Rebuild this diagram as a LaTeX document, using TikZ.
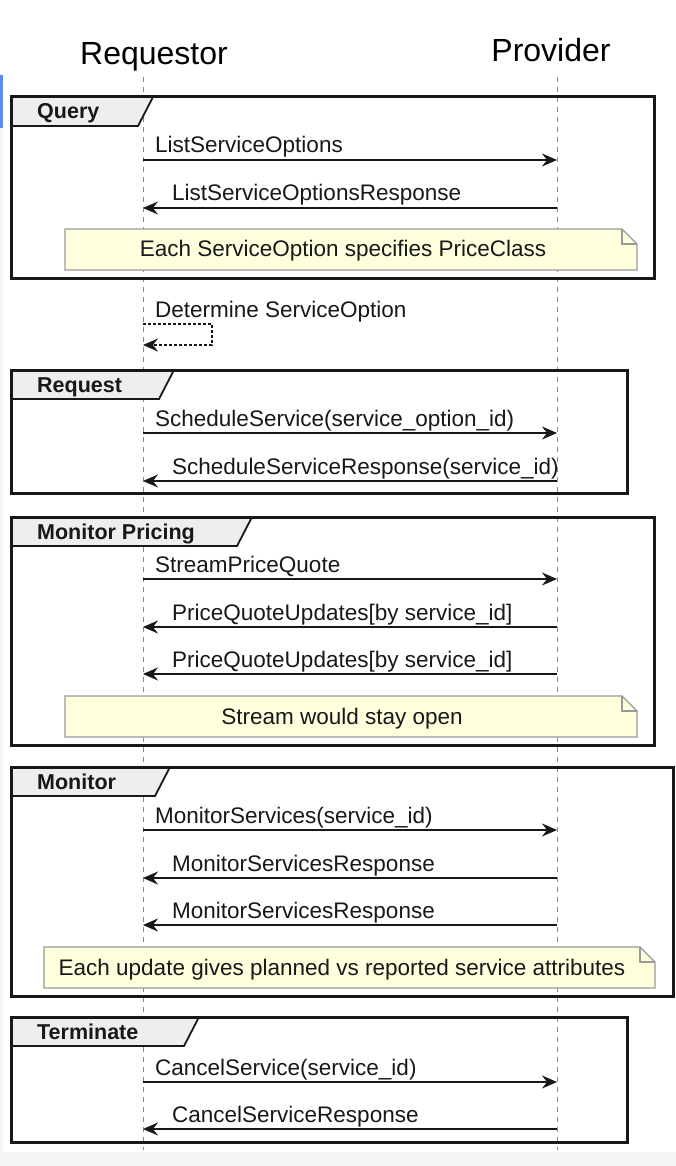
\documentclass[tikz,border=0pt]{standalone}
\usepackage{fontspec}
\setmainfont{Liberation Sans}
\usetikzlibrary{arrows.meta}
\definecolor{notefill}{HTML}{FEFFDD}
\definecolor{notedraw}{HTML}{999999}
\definecolor{tabfill}{HTML}{EEEEEE}
\definecolor{ink}{HTML}{181818}
\definecolor{lifegray}{HTML}{8A8A8A}
\definecolor{bandgray}{HTML}{F4F4F4}
\definecolor{sliverblue}{HTML}{5A8BEE}

\begin{document}
\begin{tikzpicture}[
    x=1pt, y=-1pt,
    lifeline/.style={draw=lifegray, line width=1pt, dash pattern=on 5pt off 5pt},
    msg/.style={draw=ink, line width=1.4pt, -{Stealth[length=15pt, width=13pt, inset=5pt]}},
    selfmsg/.style={msg, dash pattern=on 3pt off 2pt},
    msglabel/.style={anchor=base west, inner sep=0pt, text=ink, font=\fontsize{22.5}{27}\selectfont},
    actor/.style={anchor=base, inner sep=0pt, text=black, font=\fontsize{32}{38}\selectfont},
    framebox/.style={draw=ink, line width=3pt},
    tabbox/.style={fill=tabfill, draw=ink, line width=1.8pt},
    tablabel/.style={anchor=base west, inner sep=0pt, text=ink, font=\bfseries\fontsize{21.5}{26}\selectfont},
    notebox/.style={fill=notefill, draw=notedraw, line width=1.2pt},
    notetext/.style={anchor=base, inner sep=0pt, text=ink, font=\fontsize{22.5}{27}\selectfont}
    ]
    \useasboundingbox (0,0) rectangle (676,1166);
    % background
    \fill[white] (0,0) rectangle (676,1166);
    \fill[bandgray] (0,1152) rectangle (676,1166);
    \fill[bandgray] (0,128) rectangle (3,1152);
    \fill[sliverblue] (0,75) rectangle (3,128);
    % participants
    \node[actor] (req) at (154,65) {Requestor};
    \node[actor] (prov) at (551,62) {Provider};
    \coordinate (reqtop) at (143,77);
    \coordinate (reqbot) at (143,1150);
    \coordinate (provtop) at (557,77);
    \coordinate (provbot) at (557,1150);
    \draw[lifeline] (reqtop) -- (reqbot);
    \draw[lifeline] (provtop) -- (provbot);

    % Query frame
    \draw[tabbox] (11,97) -- (153,97) -- (138,126) -- (11,126) -- cycle;
    \node[tablabel] (query) at (37,119) {Query};
    \draw[framebox] (11,97) rectangle (654,278);
    \coordinate (m1a) at (143,160);
    \coordinate (m1b) at (557,160);
    \draw[msg] (m1a) -- (m1b);
    \node[msglabel] (m1l) at (155,153) {ListServiceOptions};
    \coordinate (m2a) at (557,208);
    \coordinate (m2b) at (143,208);
    \draw[msg] (m2a) -- (m2b);
    \node[msglabel] (m2l) at (172,201) {ListServiceOptionsResponse};
    % note
    \draw[notebox] (65,229) -- (622,229) -- (637,244) -- (637,270) -- (65,270) -- cycle;
    \draw[notebox, fill=none] (622,229) -- (622,244) -- (637,244);
    \node[notetext] (n1) at (343,257) {Each ServiceOption specifies PriceClass};

    % self message
    \coordinate (s1a) at (143,324);
    \coordinate (s1b) at (212,324);
    \coordinate (s1c) at (212,345);
    \coordinate (s1d) at (143,345);
    \draw[selfmsg] (s1a) -- (s1b) -- (s1c) -- (s1d);
    \node[msglabel] (s1l) at (155,317) {Determine ServiceOption};

    % Request frame
    \draw[tabbox] (11,370) -- (174,370) -- (159,399) -- (11,399) -- cycle;
    \node[tablabel] (request) at (37,392) {Request};
    \draw[framebox] (11,370) rectangle (627,493);
    \coordinate (m3a) at (143,433);
    \coordinate (m3b) at (557,433);
    \draw[msg] (m3a) -- (m3b);
    \node[msglabel] (m3l) at (155,426) {ScheduleService(service\_option\_id)};
    \coordinate (m4a) at (557,481);
    \coordinate (m4b) at (143,481);
    \draw[msg] (m4a) -- (m4b);
    \node[msglabel] (m4l) at (172,474) {ScheduleServiceResponse(service\_id)};

    % Monitor Pricing frame
    \draw[tabbox] (11,517) -- (252,517) -- (237,546) -- (11,546) -- cycle;
    \node[tablabel] (pricing) at (37,539) {Monitor Pricing};
    \draw[framebox] (11,517) rectangle (654,745);
    \coordinate (m5a) at (143,579);
    \coordinate (m5b) at (557,579);
    \draw[msg] (m5a) -- (m5b);
    \node[msglabel] (m5l) at (155,572) {StreamPriceQuote};
    \coordinate (m6a) at (557,627);
    \coordinate (m6b) at (143,627);
    \draw[msg] (m6a) -- (m6b);
    \node[msglabel] (m6l) at (172,620) {PriceQuoteUpdates[by service\_id]};
    \coordinate (m7a) at (557,674);
    \coordinate (m7b) at (143,674);
    \draw[msg] (m7a) -- (m7b);
    \node[msglabel] (m7l) at (172,667) {PriceQuoteUpdates[by service\_id]};
    % note
    \draw[notebox] (65,696) -- (622,696) -- (637,711) -- (637,737) -- (65,737) -- cycle;
    \draw[notebox, fill=none] (622,696) -- (622,711) -- (637,711);
    \node[notetext] (n2) at (342,724) {Stream would stay open};

    % Monitor frame
    \draw[tabbox] (11,767) -- (170,767) -- (155,796) -- (11,796) -- cycle;
    \node[tablabel] (monitor) at (37,789) {Monitor};
    \draw[framebox] (11,767) rectangle (673,996);
    \coordinate (m8a) at (143,830);
    \coordinate (m8b) at (557,830);
    \draw[msg] (m8a) -- (m8b);
    \node[msglabel] (m8l) at (155,823) {MonitorServices(service\_id)};
    \coordinate (m9a) at (557,878);
    \coordinate (m9b) at (143,878);
    \draw[msg] (m9a) -- (m9b);
    \node[msglabel] (m9l) at (172,871) {MonitorServicesResponse};
    \coordinate (m10a) at (557,925);
    \coordinate (m10b) at (143,925);
    \draw[msg] (m10a) -- (m10b);
    \node[msglabel] (m10l) at (172,918) {MonitorServicesResponse};
    % note
    \draw[notebox] (44,947) -- (640,947) -- (655,962) -- (655,988) -- (44,988) -- cycle;
    \draw[notebox, fill=none] (640,947) -- (640,962) -- (655,962);
    \node[notetext] (n3) at (342,975) {Each update gives planned vs reported service attributes};

    % Terminate frame
    \draw[tabbox] (11,1017) -- (199,1017) -- (184,1046) -- (11,1046) -- cycle;
    \node[tablabel] (terminate) at (37,1039) {Terminate};
    \draw[framebox] (11,1017) rectangle (627,1142);
    \coordinate (m11a) at (143,1082);
    \coordinate (m11b) at (557,1082);
    \draw[msg] (m11a) -- (m11b);
    \node[msglabel] (m11l) at (155,1075) {CancelService(service\_id)};
    \coordinate (m12a) at (557,1129);
    \coordinate (m12b) at (143,1129);
    \draw[msg] (m12a) -- (m12b);
    \node[msglabel] (m12l) at (172,1122) {CancelServiceResponse};
\end{tikzpicture}
\end{document}
